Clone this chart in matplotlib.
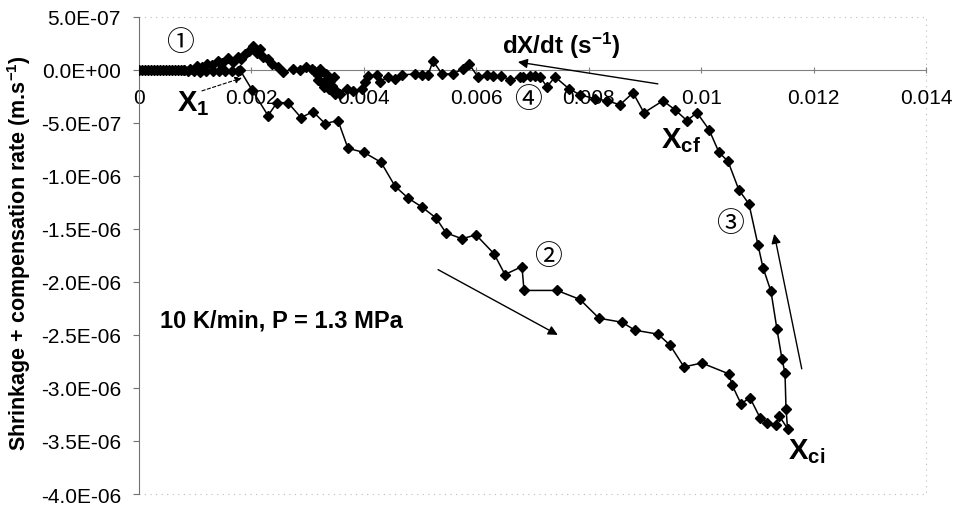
import matplotlib
matplotlib.use("Agg")
import matplotlib.pyplot as plt
from matplotlib.ticker import FixedLocator, FuncFormatter

plt.rcParams['font.family'] = ['Liberation Sans', 'DejaVu Sans']
plt.rcParams['mathtext.fontset'] = 'custom'
plt.rcParams['mathtext.rm'] = 'Liberation Sans:bold'
plt.rcParams['mathtext.it'] = 'Liberation Sans:bold'
plt.rcParams['mathtext.bf'] = 'Liberation Sans:bold'
plt.rcParams['axes.unicode_minus'] = False

# ---- data: dX/dt (s^-1) vs shrinkage + compensation rate (m/s) ----
# segment 1: start along zero up to X1
x_seg1 = [0.0, 0.000053, 0.000107, 0.00016, 0.000213, 0.000267, 0.00032, 0.000374,
          0.000427, 0.00048, 0.000534, 0.000587, 0.00064, 0.000694, 0.000747, 0.0008,
          0.000872, 0.000978, 0.001085, 0.001192, 0.001316, 0.001423, 0.00153,
          0.001654, 0.001761]
y_seg1 = [0.0, 0.0, -0.01e-7, 0.0, 0.0, -0.01e-7, 0.0, 0.0,
          0.0, -0.01e-7, 0.0, 0.0, 0.0, -0.01e-7, 0.0, 0.0,
          -0.12e-7, -0.12e-7, -0.22e-7, -0.12e-7, -0.12e-7, -0.12e-7, -0.12e-7,
          -0.12e-7, -0.12e-7]

# segment 2: from X1 down to Xci
x_seg2 = [0.001797, 0.00201, 0.002295, 0.002455, 0.00265, 0.002882, 0.003095,
          0.003309, 0.00354, 0.003718, 0.004003, 0.004305, 0.004554, 0.004785,
          0.005034, 0.005283, 0.005461, 0.005746, 0.005995, 0.006315, 0.00651,
          0.006813, 0.006849, 0.007436, 0.007845, 0.008183, 0.008592, 0.008823,
          0.009233, 0.009446, 0.009695, 0.010012, 0.010495, 0.010549, 0.010709,
          0.010869, 0.011047, 0.011171, 0.011331, 0.011385, 0.011537]
y_seg2 = [-0.03e-7, -1.90e-7, -4.33e-7, -3.11e-7, -3.11e-7, -4.52e-7, -3.96e-7,
          -5.08e-7, -4.80e-7, -7.42e-7, -7.80e-7, -8.73e-7, -10.98e-7, -12.10e-7,
          -12.95e-7, -13.98e-7, -15.38e-7, -15.94e-7, -15.57e-7, -17.35e-7, -19.31e-7,
          -18.56e-7, -20.81e-7, -20.81e-7, -21.66e-7, -23.43e-7, -23.81e-7, -24.56e-7,
          -24.93e-7, -25.96e-7, -28.02e-7, -27.65e-7, -28.68e-7, -29.71e-7, -31.49e-7,
          -30.93e-7, -32.80e-7, -33.27e-7, -33.45e-7, -32.61e-7, -33.83e-7]

# segment 3: from Xci up to Xcf
x_seg3 = [0.01151, 0.011492, 0.011438, 0.011349, 0.011243, 0.0111, 0.011011,
          0.010851, 0.010673, 0.010478, 0.010318, 0.01014, 0.009926, 0.009748,
          0.009535, 0.009321]
y_seg3 = [-31.96e-7, -28.59e-7, -27.27e-7, -24.47e-7, -20.91e-7, -18.65e-7, -16.50e-7,
          -12.66e-7, -11.35e-7, -8.64e-7, -7.80e-7, -5.65e-7, -4.06e-7, -4.80e-7,
          -3.78e-7, -2.93e-7]

# segment 4: return along zero
x_seg4 = [0.008983, 0.008788, 0.008557, 0.008325, 0.008112, 0.007845, 0.007649,
          0.0074, 0.007258, 0.007133, 0.007044, 0.006955, 0.006831, 0.006777,
          0.006599, 0.006439, 0.006297, 0.00619, 0.00603, 0.00587, 0.005764,
          0.005586, 0.00539, 0.00523, 0.005141, 0.005034, 0.00491, 0.004679,
          0.004554, 0.00443, 0.004287, 0.004234, 0.004074, 0.004021, 0.003967,
          0.003807, 0.0037, 0.003576, 0.003487, 0.003522, 0.003433, 0.003344,
          0.003255, 0.003184, 0.003113, 0.00322, 0.003327, 0.003398, 0.003469,
          0.00338, 0.003291, 0.003184, 0.003078, 0.002971, 0.002864, 0.00274,
          0.002562, 0.002473, 0.002366, 0.002295, 0.002206, 0.002152, 0.002028,
          0.002099, 0.001957, 0.001886, 0.001814, 0.001761, 0.001672, 0.001583,
          0.001476, 0.001405, 0.001299, 0.00121, 0.001121, 0.001032, 0.000907,
          0.0008]
y_seg4 = [-4.06e-7, -2.18e-7, -3.31e-7, -2.93e-7, -2.74e-7, -2.37e-7, -1.80e-7,
          -0.68e-7, -1.62e-7, -0.68e-7, -0.59e-7, -0.59e-7, -0.68e-7, -0.68e-7,
          -0.96e-7, -0.59e-7, -0.59e-7, -0.50e-7, -0.68e-7, 0.53e-7, 0.07e-7,
          -0.40e-7, -0.40e-7, 0.81e-7, -0.50e-7, -0.50e-7, -0.40e-7, -0.50e-7,
          -0.87e-7, -0.68e-7, -1.15e-7, -0.50e-7, -0.59e-7, -1.15e-7, -1.81e-7,
          -1.99e-7, -1.81e-7, -2.28e-7, -2.28e-7, -2.09e-7, -1.53e-7, -0.87e-7,
          -1.25e-7, -0.50e-7, -0.12e-7, 0.07e-7, -0.40e-7, -1.06e-7, -0.68e-7,
          -1.81e-7, -1.62e-7, -0.96e-7, 0.07e-7, 0.25e-7, -0.03e-7, 0.07e-7,
          -0.22e-7, 0.25e-7, 0.53e-7, 1.00e-7, 1.19e-7, 1.94e-7, 2.22e-7,
          1.56e-7, 1.75e-7, 1.47e-7, 1.00e-7, 1.19e-7, 0.72e-7, 1.10e-7,
          0.63e-7, 0.81e-7, 0.44e-7, 0.53e-7, 0.25e-7, 0.35e-7, 0.07e-7,
          0.0]

x_ticks = [0, 0.002, 0.004, 0.006, 0.008, 0.01, 0.012, 0.014]
x_tick_labels = ["0", "0.002", "0.004", "0.006", "0.008", "0.01", "0.012", "0.014"]
y_ticks = [5e-7, 0, -5e-7, -1e-6, -1.5e-6, -2e-6, -2.5e-6, -3e-6, -3.5e-6, -4e-6]

x_all = x_seg1 + x_seg2 + x_seg3 + x_seg4
y_all = y_seg1 + y_seg2 + y_seg3 + y_seg4

fig = plt.figure(figsize=(9.56, 5.06), dpi=100)
ax = fig.add_axes([0.1454, 0.0217, 0.8232, 0.9435])

ax.plot(x_all, y_all, color='black', lw=1.1, marker='D', markersize=4.6,
        markerfacecolor='black', markeredgecolor='black', zorder=3)

ax.set_xlim(0, 0.014)
ax.set_ylim(-4e-6, 5e-7)

ax.xaxis.set_major_locator(FixedLocator(x_ticks))
ax.set_xticklabels(x_tick_labels)
ax.yaxis.set_major_locator(FixedLocator(y_ticks))
ax.yaxis.set_major_formatter(FuncFormatter(lambda v, p: '{:.1E}'.format(v) if abs(v) > 1e-12 else '0.0E+00'))

ax.spines['bottom'].set_position(('data', 0))
ax.spines['bottom'].set_color('#808080')
ax.spines['left'].set_color('#707070')
for s in ['top', 'right']:
    ax.spines[s].set_visible(False)
# faint dotted plot-area border
ax.plot([0, 0.014, 0.014, 0], [5e-7, 5e-7, -4e-6, -4e-6], color='#bbbbbb', lw=0.8,
        ls=(0, (1, 4)), zorder=1, clip_on=False)

ax.tick_params(axis='x', direction='inout', length=5, color='#808080', labelsize=15, pad=11)
ax.tick_params(axis='y', direction='out', length=4, color='#707070', labelsize=15, pad=9)

ax.set_ylabel('Shrinkage + compensation rate (m.s$^{-1}$)', fontsize=15.5, fontweight='bold')
ax.yaxis.set_label_coords(-0.1347, 0.506)

circ_family = ['Noto Sans CJK JP', 'DejaVu Sans']
ax.text(0.00073, 2.6e-7, '\u2460', fontsize=20, family=circ_family, ha='center', va='center')
ax.text(0.00692, -2.74e-7, '\u2463', fontsize=20, family=circ_family, ha='center', va='center')
ax.text(0.00728, -17.54e-7, '\u2461', fontsize=20, family=circ_family, ha='center', va='center')
ax.text(0.01051, -14.45e-7, '\u2462', fontsize=20, family=circ_family, ha='center', va='center')

ax.text(0.00096, -3.1e-7, 'X$_1$', fontsize=21, fontweight='bold', ha='center', va='center')
ax.text(0.00965, -6.6e-7, 'X$_{cf}$', fontsize=21, fontweight='bold', ha='center', va='center')
ax.text(0.01187, -35.9e-7, 'X$_{ci}$', fontsize=21, fontweight='bold', ha='center', va='center')
ax.text(0.00751, 2.31e-7, 'dX/dt (s$^{-1}$)', fontsize=17.5, fontweight='bold', ha='center', va='center')
ax.text(0.000374, -23.6e-7, '10 K/min, P = 1.3 MPa', fontsize=17, fontweight='bold',
        ha='left', va='center')

arrow_kw = dict(arrowstyle='-|>', color='black', lw=1.0, mutation_scale=14, shrinkA=0, shrinkB=0)
ax.annotate('', xy=(0.00183, -0.78e-7), xytext=(0.00112, -2.0e-7),
            arrowprops=dict(arrowstyle='-|>', color='black', lw=0.8, ls=(0, (3, 2)),
                            mutation_scale=10, shrinkA=0, shrinkB=0))
ax.annotate('', xy=(0.00674, 0.72e-7), xytext=(0.00923, -1.34e-7), arrowprops=arrow_kw)
ax.annotate('', xy=(0.00745, -25.0e-7), xytext=(0.00532, -18.85e-7), arrowprops=arrow_kw)
ax.annotate('', xy=(0.0113, -15.48e-7), xytext=(0.01179, -28.2e-7), arrowprops=arrow_kw)

fig.savefig('out.png', dpi=100)
